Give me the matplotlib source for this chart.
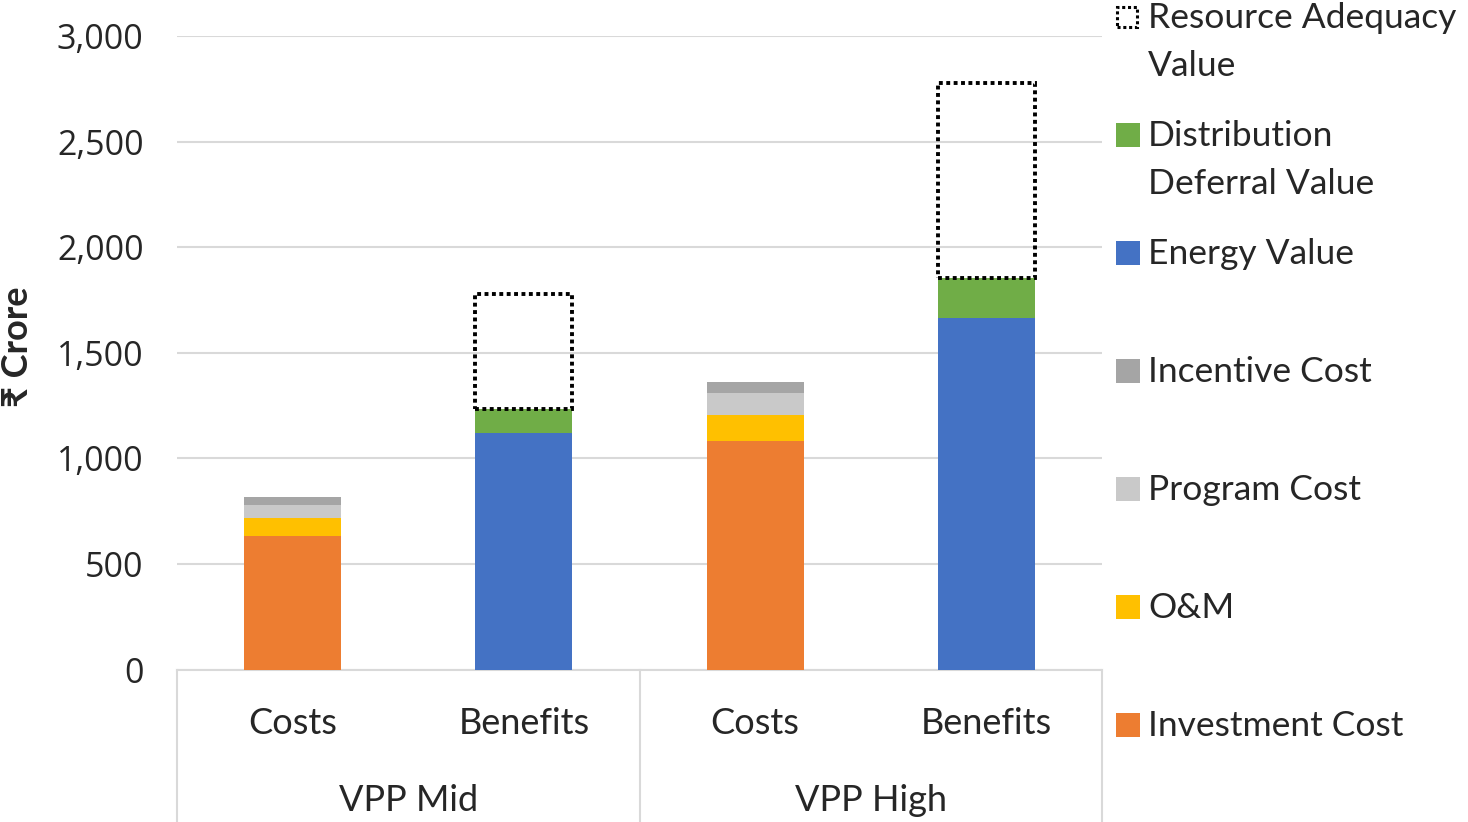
import matplotlib
matplotlib.use("Agg")
import matplotlib.pyplot as plt
from matplotlib.patches import Rectangle
from matplotlib.transforms import blended_transform_factory
import numpy as np

# ---- data (₹ Crore) ----
scenarios = ["VPP Mid", "VPP High"]
bar_labels = ["Costs", "Benefits", "Costs", "Benefits"]

investment_cost = [634, 1080]
om_cost = [84, 123]
program_cost = [62, 106]
incentive_cost = [39, 52]

energy_value = [1120, 1665]
distribution_deferral = [113, 189]
resource_adequacy = [547, 925]

y_ticks = [0, 500, 1000, 1500, 2000, 2500, 3000]

# ---- styling ----
TEXT_FONT = ["Lato", "DejaVu Sans"]
TICK_FONT = ["Open Sans", "DejaVu Sans"]
C_INV = "#ED7D31"
C_OM = "#FFC000"
C_PROG = "#C9C9C9"
C_INC = "#A5A5A5"
C_ENERGY = "#4472C4"
C_DIST = "#70AD47"
GRID = "#D9D9D9"
TXT = "#262626"

W, H = 1468, 822
fig = plt.figure(figsize=(W / 100, H / 100), dpi=100)
left, right, top, bottom = 177, 1102, 36, 669.5
ax = fig.add_axes([left / W, 1 - bottom / H, (right - left) / W, (bottom - top) / H])

n = len(scenarios)
cost_x = np.arange(n) * 2
benefit_x = np.arange(n) * 2 + 1
width = 0.42

# Cost stack
b = np.zeros(n)
for vals, col in [(investment_cost, C_INV), (om_cost, C_OM),
                  (program_cost, C_PROG), (incentive_cost, C_INC)]:
    ax.bar(cost_x, vals, width, bottom=b, color=col, linewidth=0, zorder=3)
    b += np.array(vals)

# Benefit stack
b = np.zeros(n)
for vals, col in [(energy_value, C_ENERGY), (distribution_deferral, C_DIST)]:
    ax.bar(benefit_x, vals, width, bottom=b, color=col, linewidth=0, zorder=3)
    b += np.array(vals)
ax.bar(benefit_x, resource_adequacy, width, bottom=b, facecolor="none",
       edgecolor="black", linewidth=2.8, linestyle=(0, (1, 0.9)), zorder=4)

# Axes cosmetics
ax.set_xlim(-0.5, 2 * n - 0.5)
ax.set_ylim(0, 3000)
ax.set_yticks(y_ticks)
ax.set_yticklabels([f"{v:,}" for v in y_ticks], fontfamily=TICK_FONT,
                   fontsize=24.5, color=TXT)
ax.tick_params(axis="y", length=0, pad=24)
ax.grid(axis="y", color=GRID, linewidth=1.5, zorder=0)
for s in ["left", "right", "top"]:
    ax.spines[s].set_visible(False)
ax.spines["bottom"].set_color(GRID)
ax.spines["bottom"].set_linewidth(1.5)

positions = np.sort(np.concatenate([cost_x, benefit_x]))
ax.set_xticks(positions)
ax.set_xticklabels(bar_labels, fontfamily=TEXT_FONT, fontsize=26, color=TXT)
ax.tick_params(axis="x", length=0, pad=27)

# Group boxes under the axis
trans = blended_transform_factory(ax.transData, ax.transAxes)
for xb in np.arange(n + 1) * 2 - 0.5:
    ax.plot([xb, xb], [0, -0.3], transform=trans, color=GRID,
            linewidth=1.5, clip_on=False, zorder=1)
for i, name in enumerate(scenarios):
    ax.text(2 * i + 0.5, -0.2065, name, transform=trans, ha="center",
            va="center", fontfamily=TEXT_FONT, fontsize=26, color=TXT)

# Y label
fig.text(18 / W, 1 - 347 / H, "₹ Crore", rotation=90, ha="center",
         va="center", fontsize=26, fontweight="bold", family=TEXT_FONT,
         color=TXT)

# Legend (one fixed slot per entry, swatch aligned with the first line)
legend_items = [
    ("Resource Adequacy\nValue", None),
    ("Distribution\nDeferral Value", C_DIST),
    ("Energy Value", C_ENERGY),
    ("Incentive Cost", C_INC),
    ("Program Cost", C_PROG),
    ("O&M", C_OM),
    ("Investment Cost", C_INV),
]
slot0, slot_h = 17, 118
sw = 24
for k, (label, col) in enumerate(legend_items):
    yc = slot0 + k * slot_h
    if col is None:
        patch = Rectangle((1117 / W, 1 - (yc + sw / 2 - 2) / H), (sw - 4) / W,
                          (sw - 4) / H, transform=fig.transFigure,
                          facecolor="none", edgecolor="black", linewidth=2.2,
                          linestyle=(0, (1, 0.9)))
    else:
        patch = Rectangle((1116 / W, 1 - (yc + sw / 2) / H), sw / W, sw / H,
                          transform=fig.transFigure, facecolor=col,
                          edgecolor="none")
    fig.add_artist(patch)
    fig.text(1148 / W, 1 - (yc - 15) / H, label, ha="left", va="top",
             fontfamily=TEXT_FONT, fontsize=25.5, color=TXT, linespacing=1.6)

fig.savefig("out.png", dpi=100, facecolor="white")
